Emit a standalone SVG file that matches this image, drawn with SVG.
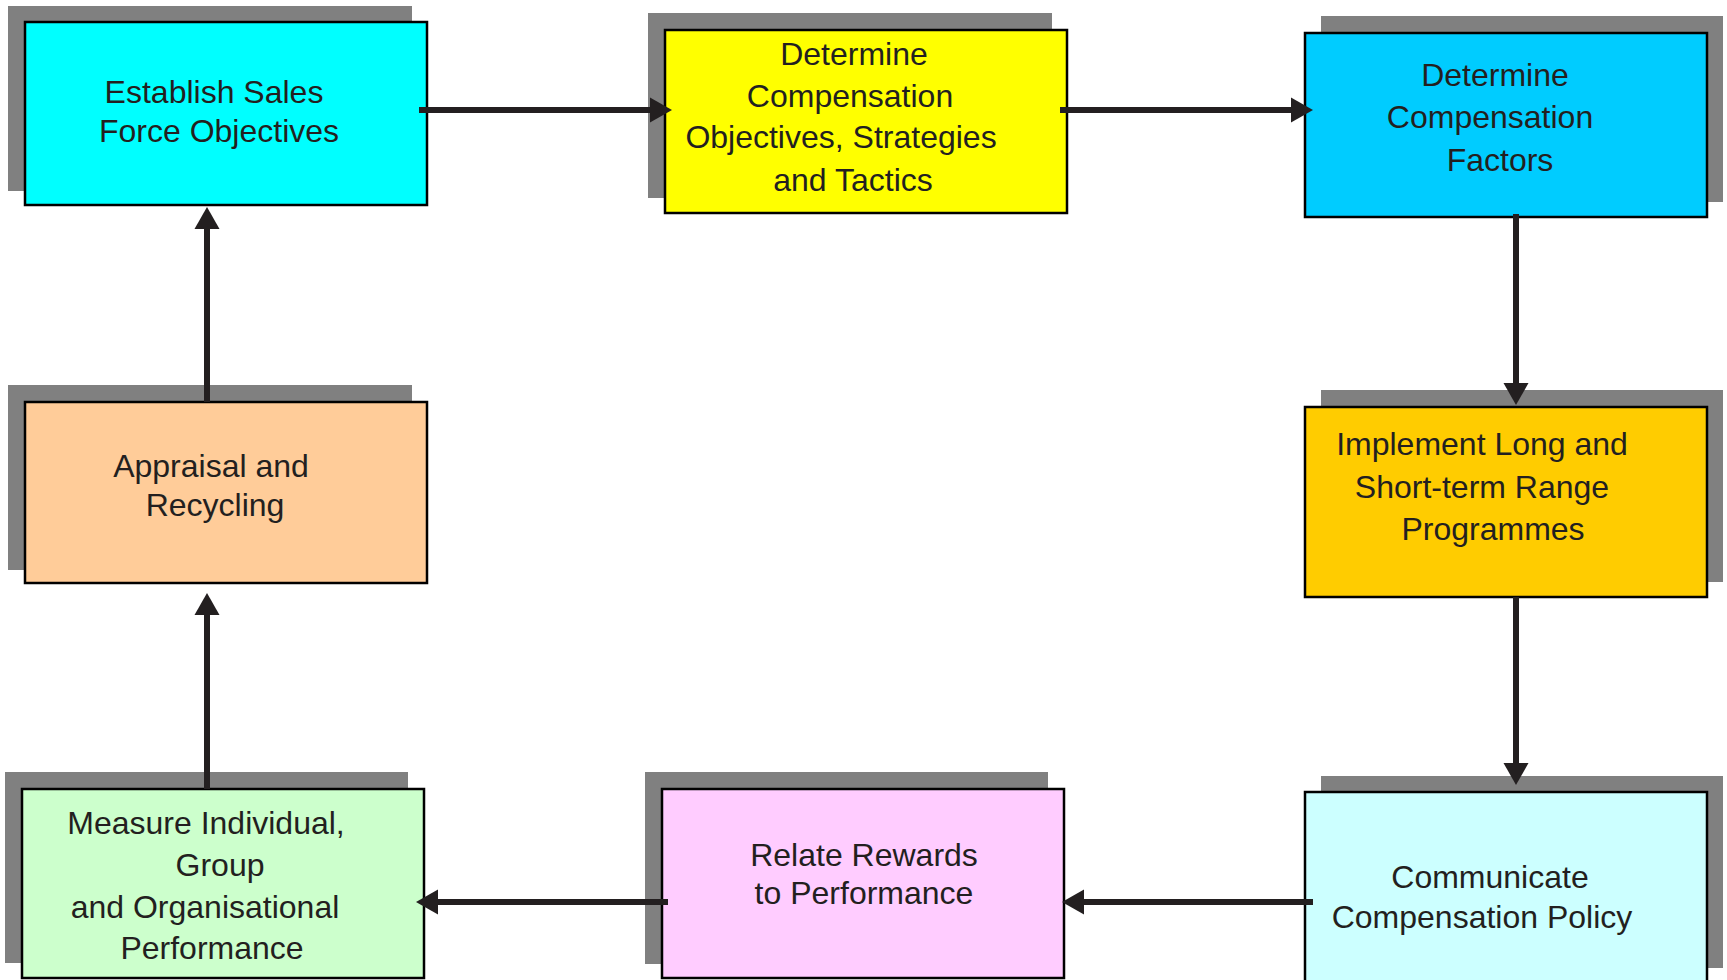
<svg xmlns="http://www.w3.org/2000/svg" width="1727" height="980" viewBox="0 0 1727 980">
<style>
.sh{fill:#808080}
.bx{stroke:#000;stroke-width:2.5}
.t{font-family:"Liberation Sans",Arial,sans-serif;font-size:32px;fill:#231f20;text-anchor:middle}
.c{stroke:#231f20;stroke-width:6;fill:none}
</style>
<defs>
<marker id="ah" markerUnits="userSpaceOnUse" markerWidth="22" markerHeight="25" refX="0" refY="12.5" orient="auto" overflow="visible">
<path d="M0,0 L22,12.5 L0,25 Z" fill="#231f20"/>
</marker>
</defs>
<rect width="1727" height="980" fill="#fff"/>
<g id="n1">
<rect class="sh" x="8" y="6" width="404" height="185"/>
<rect class="bx" x="25" y="22" width="402" height="183" fill="#00ffff"/>
<text class="t"><tspan x="214" y="103">Establish Sales</tspan><tspan x="219" y="142">Force Objectives</tspan></text>
</g>
<g id="n2">
<rect class="sh" x="648" y="13" width="404" height="185"/>
<rect class="bx" x="665" y="30" width="402" height="183" fill="#ffff00"/>
<text class="t"><tspan x="854" y="65">Determine</tspan><tspan x="850" y="107">Compensation</tspan><tspan x="841" y="148">Objectives, Strategies</tspan><tspan x="853" y="191">and Tactics</tspan></text>
</g>
<g id="n3">
<rect class="sh" x="1321" y="16" width="402" height="186"/>
<rect class="bx" x="1305" y="33" width="402" height="184" fill="#00ccff"/>
<text class="t"><tspan x="1495" y="86">Determine</tspan><tspan x="1490" y="128">Compensation</tspan><tspan x="1500" y="171">Factors</tspan></text>
</g>
<g id="n4">
<rect class="sh" x="8" y="385" width="404" height="185"/>
<rect class="bx" x="25" y="402" width="402" height="181" fill="#ffcc99"/>
<text class="t"><tspan x="211" y="477">Appraisal and</tspan><tspan x="215" y="516">Recycling</tspan></text>
</g>
<g id="n5">
<rect class="sh" x="1321" y="390" width="402" height="192"/>
<rect class="bx" x="1305" y="407" width="402" height="190" fill="#ffcc00"/>
<text class="t"><tspan x="1482" y="455">Implement Long and</tspan><tspan x="1482" y="498">Short-term Range</tspan><tspan x="1493" y="540">Programmes</tspan></text>
</g>
<g id="n6">
<rect class="sh" x="5" y="772" width="403" height="191"/>
<rect class="bx" x="22" y="789" width="402" height="189" fill="#ccffcc"/>
<text class="t"><tspan x="206" y="834">Measure Individual,</tspan><tspan x="220" y="876">Group</tspan><tspan x="205" y="918">and Organisational</tspan><tspan x="212" y="959">Performance</tspan></text>
</g>
<g id="n7">
<rect class="sh" x="645" y="772" width="403" height="192"/>
<rect class="bx" x="662" y="789" width="402" height="189" fill="#ffccff"/>
<text class="t"><tspan x="864" y="866">Relate Rewards</tspan><tspan x="864" y="904">to Performance</tspan></text>
</g>
<g id="n8">
<rect class="sh" x="1321" y="776" width="402" height="192"/>
<rect class="bx" x="1305" y="792" width="402" height="200" fill="#ccffff"/>
<text class="t"><tspan x="1490" y="888">Communicate</tspan><tspan x="1482" y="928">Compensation Policy</tspan></text>
</g>
<g id="connectors">
<path class="c" d="M419,110 H650" marker-end="url(#ah)"/>
<path class="c" d="M1060,110 H1291" marker-end="url(#ah)"/>
<path class="c" d="M1516,214 V383" marker-end="url(#ah)"/>
<path class="c" d="M1516,597 V763" marker-end="url(#ah)"/>
<path class="c" d="M1313,902 H1084" marker-end="url(#ah)"/>
<path class="c" d="M668,902 H438" marker-end="url(#ah)"/>
<path class="c" d="M207,789 V615" marker-end="url(#ah)"/>
<path class="c" d="M207,402 V229" marker-end="url(#ah)"/>
</g>
</svg>
